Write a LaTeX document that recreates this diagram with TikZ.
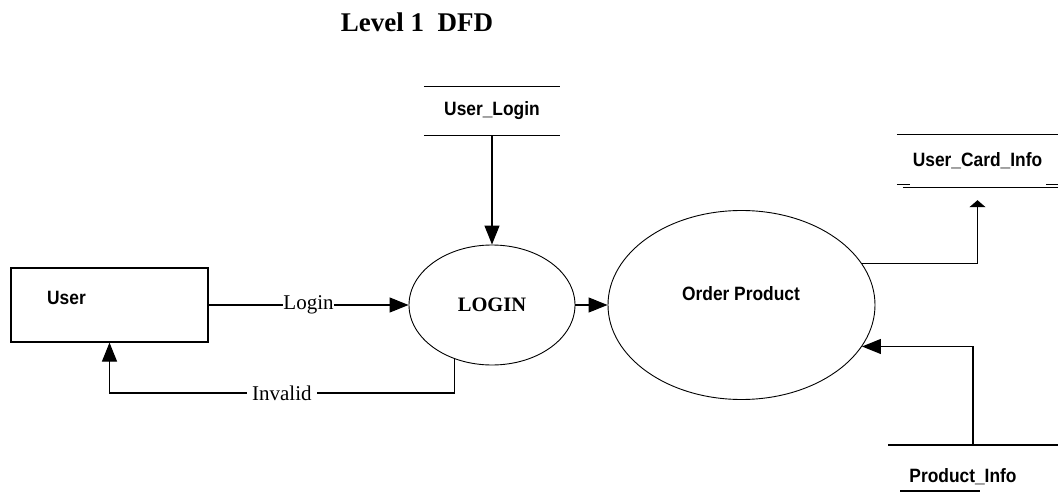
\documentclass[tikz,border=0pt]{standalone}
\usepackage{fontspec}
\setmainfont{Liberation Serif}
\setsansfont{Liberation Sans}[FakeStretch=0.9]
\usetikzlibrary{shapes.geometric,arrows.meta}
\tikzset{
  flow/.style={line width=1.2pt, draw=black},
  arr/.style={flow, -{Triangle[length=19pt,width=15pt]}},
  proc/.style={ellipse, draw=black, line width=0.9pt, inner sep=0pt},
  entity/.style={rectangle, draw=black, line width=1.2pt, inner sep=0pt},
  store/.style={rectangle, inner sep=0pt, font=\sffamily\bfseries\fontsize{19.3}{22}\selectfont},
  boldsans/.style={inner sep=0pt, font=\sffamily\bfseries\fontsize{19.3}{22}\selectfont},
  flowlabel/.style={fill=white, font=\fontsize{21}{24}\selectfont},
}
\begin{document}
\begin{tikzpicture}[x=1pt,y=-1pt]
\useasboundingbox (0,0) rectangle (1058,492);

% title
\node[font=\bfseries\fontsize{27}{30}\selectfont] (title) at (417,22) {Level 1\ \ DFD};

% external entity
\node[entity, minimum width=197pt, minimum height=74pt] (user) at (109.5,305) {};
\node[boldsans] (usertext) at (66.5,298) {User};

% processes
\node[proc, minimum width=166pt, minimum height=120pt,
      font=\bfseries\fontsize{20.5}{23}\selectfont] (login) at (492,305) {LOGIN};
\node[proc, minimum width=267pt, minimum height=189pt] (op) at (741.5,305) {};
\node[boldsans] (optext) at (741,294) {Order Product};

% data stores
\node[store, minimum width=136pt, minimum height=49pt] (ul) at (492,111) {User\_Login};
\draw[flow] (ul.north west) -- (ul.north east);
\draw[flow] (ul.south west) -- (ul.south east);

\node[store, minimum width=161pt, minimum height=52pt] (uci) at (977.5,161) {User\_Card\_Info};
\draw[flow] (uci.north west) -- (uci.north east);
\draw[flow] ([xshift=6pt]uci.south west) -- (uci.south east);
\draw[flow] ([yshift=3pt]uci.south west) -- ++(13,0);
\draw[flow] ([yshift=3pt]uci.south east) -- ++(-12,0);

\node[boldsans] (pi) at (963,477) {Product\_Info};
\coordinate (pitop) at (973,445);
\draw[flow] (pitop) ++(-85,0) -- ++(170,0);
\draw[flow] (900,491) -- (980,491);

% data flows
\draw[arr] (ul.south) -- (login.north);
\draw[arr] (user.east) -- node[flowlabel, inner sep=0pt] {Login} (login.west);
\draw[arr] (login.east) -- (op.west);

\coordinate (invrow) at (0,393);
\draw[arr] (login.235.4) -- (login.235.4 |- invrow)
  -- node[flowlabel, inner xsep=5pt, inner ysep=0pt] {Invalid} (user.south |- invrow)
  -- (user.south);

\draw[flow, -{Triangle[length=7pt,width=16pt]}, shorten >=13pt] (op.19.4) -| (uci.south);
\draw[arr] (pitop) |- (op.-19.9);
\end{tikzpicture}
\end{document}
